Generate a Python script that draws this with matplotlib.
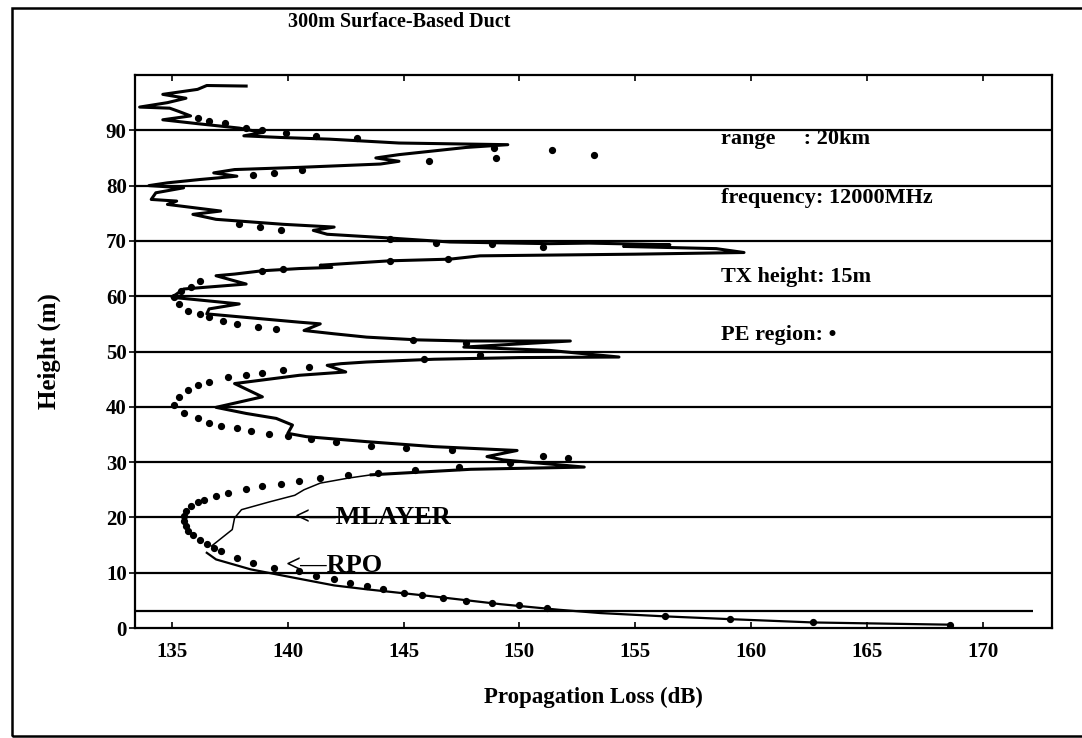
import matplotlib
matplotlib.use("Agg")
import matplotlib.pyplot as plt
from matplotlib.patches import Rectangle

plt.rcParams['font.family'] = ['Liberation Serif', 'DejaVu Serif']

title = "300m Surface-Based Duct"
x_label = "Propagation Loss (dB)"
y_label = "Height (m)"
x_ticks = [135, 140, 145, 150, 155, 160, 165, 170]
y_ticks = [0, 10, 20, 30, 40, 50, 60, 70, 80, 90]
grid_heights = [10, 20, 30, 40, 50, 60, 70, 80, 90]
surface_height = 3.1
surface_end_loss = 172.2

# thick solid curve (upper part)
main_loss = [138.2, 136.5, 136.1, 134.6, 135.6, 134.8, 133.6, 134.9, 135.3, 135.8,
             134.6, 136.1, 137.9, 138.9, 138.1, 139.7, 141.8, 144.8, 149.5, 147.7,
             144.8, 143.8, 144.8, 144.0, 140.5, 137.7, 136.8, 137.8, 136.2, 134.8,
             134.0, 135.5, 134.3, 134.1, 135.2, 134.8, 137.1, 135.9, 136.9, 139.8,
             142.0, 141.1, 141.7, 144.1, 147.0, 151.3, 153.0, 156.5, 154.5, 158.5,
             159.7, 155.0, 148.3, 147.0, 144.4, 142.5, 141.4, 141.9, 140.5, 138.9,
             137.7, 136.9, 138.2, 135.5, 135.0, 137.9, 136.6, 136.5, 140.5, 141.4,
             140.7, 142.0, 143.4, 145.6, 147.7, 152.2, 147.6, 151.3, 154.3, 150.0,
             146.3, 143.4, 142.3, 141.7, 142.5, 140.5, 137.7, 138.9, 136.9, 138.2,
             139.5, 140.2, 140.0, 140.8, 143.4, 146.3, 149.9, 148.6, 149.3, 152.8,
             147.9, 143.6]
main_height = [98.0, 98.1, 97.4, 96.5, 95.8, 95.0, 94.2, 94.0, 93.4, 92.6,
               91.9, 91.2, 90.4, 89.6, 89.0, 88.7, 88.4, 87.7, 87.4, 86.9,
               85.6, 85.0, 84.4, 83.9, 83.3, 82.9, 82.3, 81.7, 81.1, 80.5,
               80.0, 79.6, 78.7, 77.5, 77.2, 76.6, 75.4, 74.8, 73.9, 73.0,
               72.5, 71.9, 71.2, 70.6, 69.8, 69.5, 69.6, 69.3, 69.0, 68.6,
               67.9, 67.6, 67.3, 66.7, 66.4, 65.9, 65.6, 65.2, 65.0, 64.6,
               64.0, 63.7, 62.2, 61.3, 59.8, 58.6, 57.7, 56.8, 55.3, 55.0,
               53.8, 53.2, 52.6, 52.1, 51.9, 51.9, 50.8, 50.2, 49.0, 48.9,
               48.6, 48.1, 47.8, 47.5, 46.3, 45.7, 44.2, 41.8, 39.9, 38.8,
               37.9, 36.7, 35.2, 34.6, 33.7, 32.8, 32.1, 31.0, 30.4, 29.1,
               28.7, 27.7]

# thin MLAYER branch
mlayer_loss = [143.6, 142.6, 141.4, 140.7, 140.3, 139.2, 138.0, 137.7, 137.6, 136.7]
mlayer_height = [27.7, 27.1, 26.2, 25.0, 24.0, 22.8, 21.4, 19.9, 17.8, 14.8]

# lower solid curve
lower_loss = [136.5, 136.9, 138.4, 140.5, 142.0, 143.4, 146.3, 149.2, 151.7, 153.5,
              156.3, 159.1, 162.7, 168.6]
lower_height = [13.6, 12.4, 10.6, 8.9, 7.7, 7.0, 5.7, 4.3, 3.3, 2.7,
                2.1, 1.6, 1.0, 0.6]

# dotted series
dot_loss = [136.1, 136.6, 137.3, 138.2, 138.9, 139.9, 141.2, 143.0, 148.9,
            146.1, 149.0, 151.4, 153.2,
            140.6, 139.4, 138.5,
            137.9, 138.8, 139.7, 144.4, 146.4, 148.8, 151.0,
            146.9, 144.4,
            139.8, 138.9, 136.2, 135.8, 135.4, 135.1, 135.3, 135.7, 136.2, 136.6,
            137.2, 137.8, 138.7, 139.5,
            145.4, 147.7, 148.3, 145.9,
            140.9, 139.8, 138.9, 138.2, 137.4, 136.6, 136.1, 135.7, 135.3, 135.1,
            135.5, 136.1, 136.6, 137.1, 137.8, 138.4, 139.2, 140.0, 141.0, 142.1,
            143.6, 145.1, 147.1, 149.6, 151.0, 152.1,
            147.4, 145.5, 143.9, 142.6, 141.4, 140.5, 139.7, 138.9, 138.2, 137.4,
            136.9, 136.4, 136.1, 135.8, 135.6, 135.5, 135.5, 135.6, 135.7, 135.9,
            136.2, 136.5, 136.8, 137.1, 137.8, 138.5, 139.4, 140.5, 141.2, 142.0,
            142.7, 143.4, 144.1, 145.0, 145.8, 146.7, 147.7, 148.8, 150.0, 151.2,
            156.3, 159.1, 162.7, 168.6]
dot_height = [92.2, 91.7, 91.3, 90.4, 90.0, 89.5, 89.0, 88.6, 86.8,
              84.4, 85.0, 86.5, 85.6,
              82.9, 82.3, 82.0,
              73.0, 72.5, 71.9, 70.3, 69.7, 69.4, 68.9,
              66.7, 66.4,
              64.9, 64.6, 62.8, 61.6, 61.0, 59.8, 58.6, 57.4, 56.8, 56.2,
              55.6, 55.0, 54.5, 54.1,
              52.1, 51.5, 49.3, 48.7,
              47.2, 46.6, 46.1, 45.7, 45.3, 44.5, 43.9, 43.0, 41.8, 40.3,
              38.8, 37.9, 37.1, 36.5, 36.1, 35.7, 35.1, 34.7, 34.1, 33.7,
              32.9, 32.5, 32.1, 29.8, 31.1, 30.7,
              29.2, 28.6, 28.1, 27.6, 27.2, 26.5, 26.1, 25.6, 25.1, 24.5,
              23.8, 23.2, 22.7, 22.0, 21.2, 20.2, 19.3, 18.4, 17.6, 16.9,
              16.0, 15.1, 14.5, 13.9, 12.7, 11.8, 10.9, 10.3, 9.4, 8.8,
              8.2, 7.6, 7.0, 6.4, 5.9, 5.5, 4.9, 4.6, 4.1, 3.7,
              2.1, 1.6, 1.0, 0.6]

info_lines = ["range     : 20km", "frequency: 12000MHz", "TX height: 15m", "PE region: \u2022"]
info_heights = [88.4, 77.7, 63.5, 53.0]
info_loss = 158.7

fig = plt.figure(figsize=(10.82, 7.38), dpi=100)
ax = fig.add_axes([135 / 1082, 1 - 628 / 738, (1052 - 135) / 1082, (628 - 75) / 738])
ax.set_xlim(133.4, 173.0)
ax.set_ylim(0, 100)

for h in grid_heights:
    ax.axhline(h, color='black', lw=1.6, zorder=1)
ax.hlines(surface_height, 133.4, surface_end_loss, color='black', lw=1.6, zorder=1)

ax.plot(main_loss, main_height, color='black', lw=2.2, zorder=3, solid_joinstyle='round')
ax.plot(mlayer_loss, mlayer_height, color='black', lw=1.1, zorder=3)
ax.plot(lower_loss, lower_height, color='black', lw=1.6, zorder=3)
ax.plot(dot_loss, dot_height, ls='none', marker='o', ms=4.2, color='black', zorder=4)

for s in ax.spines.values():
    s.set_linewidth(1.6)

ax.set_xticks(x_ticks)
ax.set_yticks(y_ticks)
ax.tick_params(axis='x', direction='in', length=4, width=1.2, top=True,
               labelsize=15, pad=10)
ax.tick_params(axis='y', direction='out', length=4, width=1.2, labelsize=15, pad=2)
for lab in ax.get_xticklabels() + ax.get_yticklabels():
    lab.set_fontweight('bold')

ax.set_xlabel(x_label, fontsize=16.5, fontweight='bold', labelpad=18)
ax.set_ylabel(y_label, fontsize=18, fontweight='bold', labelpad=32)

fig.text(288 / 1082, 1 - 22 / 738, title, fontsize=14.5, fontweight='bold',
         ha='left', va='center')

for t, h in zip(info_lines, info_heights):
    ax.text(info_loss, h, t, fontsize=16, fontweight='bold', ha='left', va='center')

ax.text(140.3, 20.0, "<\u2014MLAYER", fontsize=19, fontweight='bold', ha='left', va='center')
ax.text(139.9, 11.3, "<\u2014RPO", fontsize=19, fontweight='bold', ha='left', va='center')

fig.patches.append(Rectangle((12 / 1082, 2 / 738), 1.2, 728 / 738, transform=fig.transFigure,
                             fill=False, edgecolor='black', lw=1.8))

fig.savefig("out.png", dpi=100)
